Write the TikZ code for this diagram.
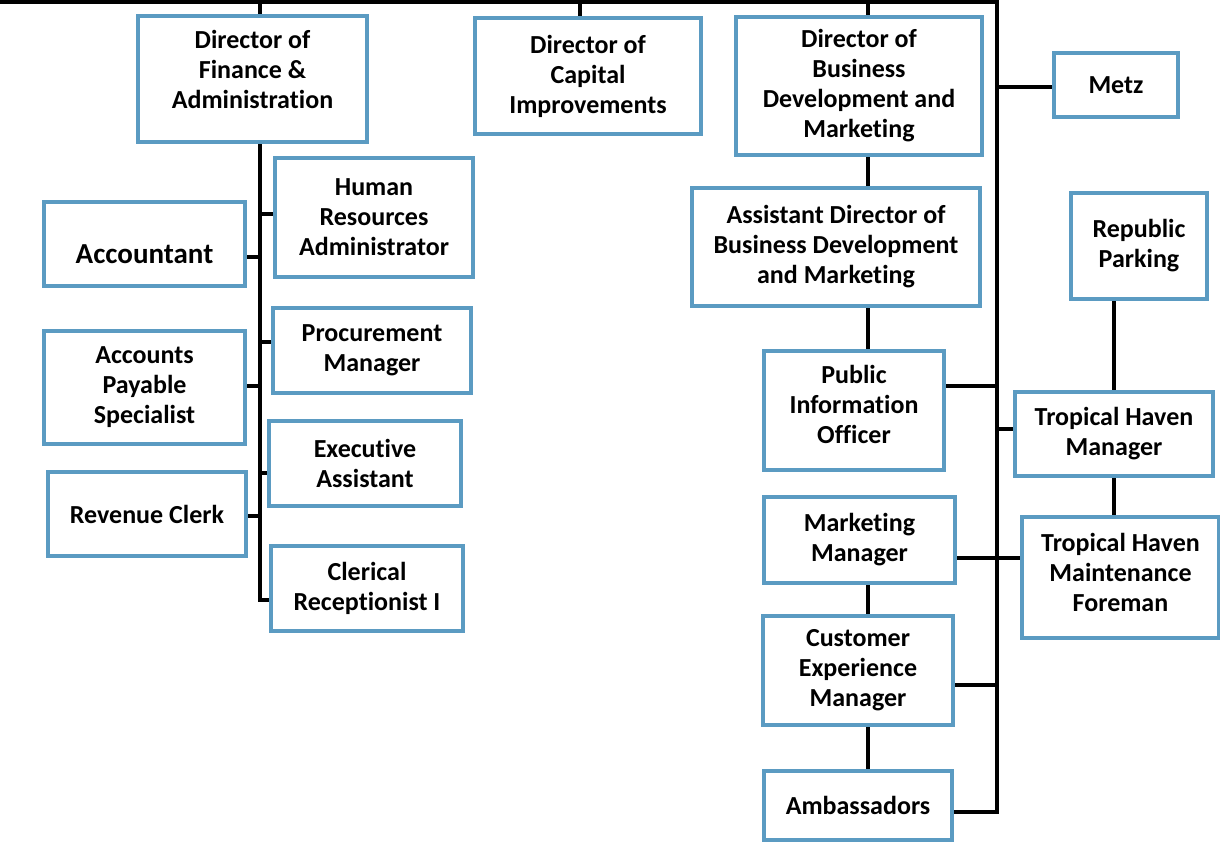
\documentclass[tikz,border=0pt]{standalone}
\usepackage{fontspec}
\setmainfont{Carlito}[Ligatures=NoCommon]
\usepackage{xcolor}
\usetikzlibrary{positioning,backgrounds}
\definecolor{boxblue}{HTML}{5B9BC2}

\begin{document}
\begin{tikzpicture}[
    x=0.5pt, y=-0.5pt,
    post/.style={draw=boxblue, line width=1.7pt, fill=white, align=center, inner sep=2pt, font=\fontsize{13}{15}\selectfont\bfseries},
    wire/.style={draw=black, line width=2pt}
]
    \useasboundingbox (0,0) rectangle (1220,842);

    % Colonne dei collegamenti
    \coordinate (barW)  at (0,2);
    \coordinate (fcol)  at (260,0);
    \coordinate (ccol)  at (580,0);
    \coordinate (bcol)  at (867.5,0);
    \coordinate (spine) at (997,0);

    % Direttori
    \node[post, minimum width=114.5pt, minimum height=63pt, text depth=10pt] (fin) at (252.5,79) {Director of\\Finance \&\\Administration};
    \node[post, minimum width=113pt, minimum height=58pt] (cap) at (588,76) {Director of\\Capital\\Improvements};
    \node[post, minimum width=123pt, minimum height=69pt] (bdm) at (859,86) {Director of\\Business\\Development and\\Marketing};
    \node[post, minimum width=62pt, minimum height=32pt] (metz) at (1116,85) {Metz};

    % Finanza e amministrazione
    \node[post, minimum width=99pt, minimum height=59.5pt] (hr) at (374,217.5) {Human\\Resources\\Administrator};
    \node[post, minimum width=100.5pt, minimum height=42pt, text height=20pt, font=\fontsize{14.5}{17}\selectfont\bfseries] (acct) at (144.5,244) {Accountant};
    \node[post, minimum width=99pt, minimum height=42.5pt] (proc) at (372,350.5) {Procurement\\Manager};
    \node[post, minimum width=100.5pt, minimum height=56.5pt] (aps) at (144.5,387.5) {Accounts\\Payable\\Specialist};
    \node[post, minimum width=96pt, minimum height=42.5pt] (exec) at (365,463.5) {Executive\\Assistant};
    \node[post, minimum width=99pt, minimum height=42pt] (rev) at (147,514) {Revenue Clerk};
    \node[post, minimum width=96pt, minimum height=42.5pt] (cler) at (367,588.5) {Clerical\\Receptionist I};

    % Sviluppo commerciale e marketing
    \node[post, minimum width=144pt, minimum height=59pt] (adbm) at (836,247) {Assistant Director of\\Business Development\\and Marketing};
    \node[post, minimum width=90pt, minimum height=59.5pt, text depth=6pt] (pio) at (854,410.5) {Public\\Information\\Officer};
    \node[post, minimum width=95.5pt, minimum height=43pt] (mkt) at (859.5,540) {Marketing\\Manager};
    \node[post, minimum width=95pt, minimum height=54.5pt] (cxm) at (858,670.5) {Customer\\Experience\\Manager};
    \node[post, minimum width=94pt, minimum height=34.5pt] (amb) at (858,805.5) {Ambassadors};

    % Parcheggi e Tropical Haven
    \node[post, minimum width=68pt, minimum height=53pt] (rep) at (1139,246) {Republic\\Parking};
    \node[post, minimum width=99pt, minimum height=42pt] (thm) at (1114,434) {Tropical Haven\\Manager};
    \node[post, minimum width=98.5pt, minimum height=60.5pt, text depth=5pt] (thf) at (1120.5,577.5) {Tropical Haven\\Maintenance\\Foreman};

    \begin{scope}[on background layer]
        % Barra superiore e dorsale destra
        \draw[wire] (barW) -- (barW -| spine) |- (amb.east |- 0,812);
        \foreach \n/\c in {fin/fcol, cap/ccol, bdm/bcol}
            \draw[wire] (barW -| \c) -- (\n.north -| \c);

        % Dorsale finanza
        \draw[wire] (fin.south -| fcol) |- (cler.west |- 0,600);
        \foreach \n/\y in {hr/214, proc/342, exec/473}
            \draw[wire] (fcol |- 0,\y) -- (\n.west |- 0,\y);
        \foreach \n/\y in {acct/257, aps/386, rev/516}
            \draw[wire] (\n.east |- 0,\y) -- (fcol |- 0,\y);

        % Catena marketing
        \foreach \a/\b in {bdm/adbm, adbm/pio, mkt/cxm, cxm/amb}
            \draw[wire] (\a.south -| bcol) -- (\b.north -| bcol);
        \foreach \n/\y in {pio/386, cxm/685}
            \draw[wire] (\n.east |- 0,\y) -- (spine |- 0,\y);
        \draw[wire] (mkt.east |- 0,558) -- (thf.west |- 0,558);

        % Rami a destra della dorsale
        \foreach \n/\y in {metz/87, thm/429}
            \draw[wire] (spine |- 0,\y) -- (\n.west |- 0,\y);
        \draw[wire] (rep.south -| thm.north) -- (thm.north);
        \draw[wire] (thm.south) -- (thf.north -| thm.south);
    \end{scope}
\end{tikzpicture}
\end{document}
